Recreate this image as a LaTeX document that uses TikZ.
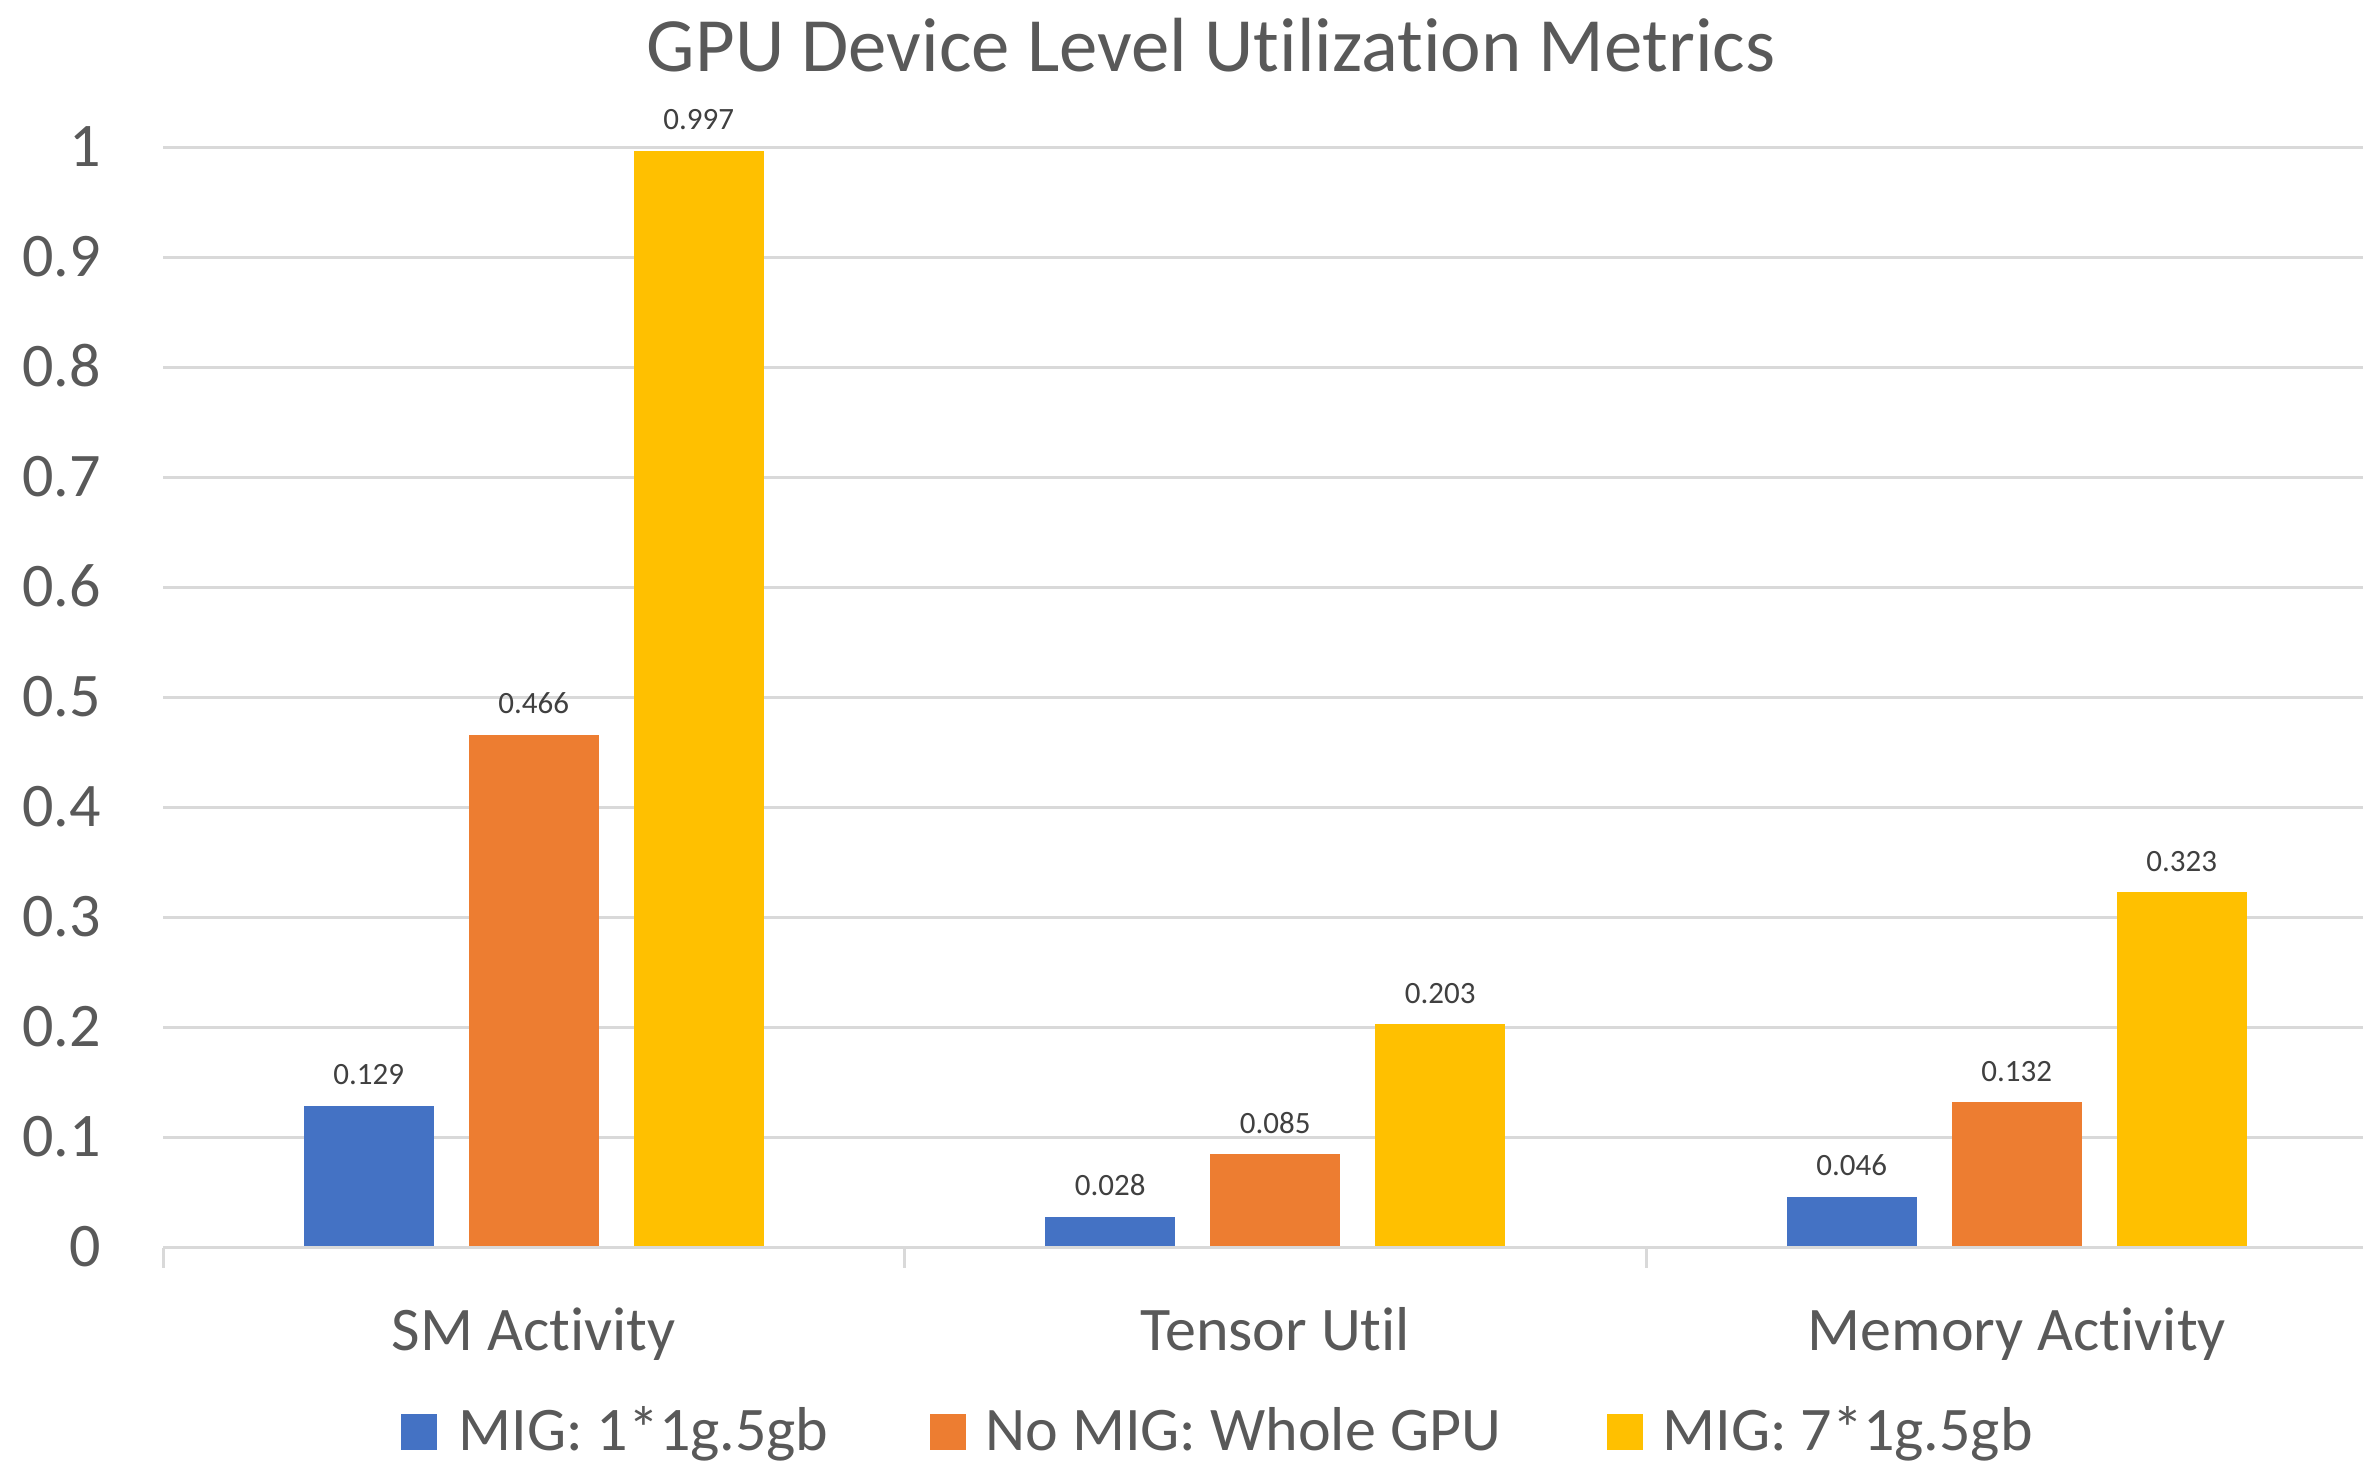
\documentclass[tikz,border=0pt]{standalone}
\usepackage{fontspec}
\setmainfont[Ligatures=NoCommon]{Carlito}
\definecolor{serblue}{HTML}{4472C4}
\definecolor{serorange}{HTML}{ED7D31}
\definecolor{seryellow}{HTML}{FFC000}
\definecolor{txtgray}{HTML}{595959}
\definecolor{lblgray}{HTML}{404040}
\definecolor{gridgray}{HTML}{D9D9D9}
\begin{document}
\begin{tikzpicture}[x=0.5pt,y=-0.5pt,
  gridline/.style={draw=gridgray,line width=1.5pt},
  ticklabel/.style={inner sep=0pt,text=txtgray,font=\fontsize{31}{37}\selectfont},
  catlabel/.style={inner sep=0pt,text=txtgray,font=\fontsize{31}{37}\selectfont},
  vallabel/.style={inner sep=0pt,text=lblgray,font=\fontsize{15.5}{18}\selectfont},
  legtext/.style={inner sep=0pt,text=txtgray,font=\fontsize{31}{37}\selectfont,anchor=base west},
  legkey/.style={inner sep=0pt,minimum size=18pt,draw=none},
  titlestyle/.style={inner sep=0pt,text=txtgray,font=\fontsize{38.4}{46}\selectfont}]
\useasboundingbox (0,0) rectangle (2363,1461);
\fill[white] (0,0) rectangle (2363,1461);

% title
\node[titlestyle,anchor=base] (title) at (1211,72) {GPU Device Level Utilization Metrics};

% horizontal gridlines and value axis labels
\foreach \v/\t in {1/0.1,2/0.2,3/0.3,4/0.4,5/0.5,6/0.6,7/0.7,8/0.8,9/0.9,10/1} {
  \draw[gridline] (163,{1247.5-110*\v}) -- (2363,{1247.5-110*\v});
  \node[ticklabel,anchor=base east] (ytick\v) at (101,{1247.5-110*\v+19}) {\t};
}
\node[ticklabel,anchor=base east] (ytick0) at (101,1266.5) {0};

% clustered bars with their value labels
\foreach \g/\va/\vb/\vc in {0/0.129/0.466/0.997,1/0.028/0.085/0.203,2/0.046/0.132/0.323} {
  \pgfmathsetmacro{\gc}{163+741.5*(\g+0.5)}
  \foreach \k/\val/\col in {0/\va/serblue,1/\vb/serorange,2/\vc/seryellow} {
    \pgfmathsetmacro{\bx}{\gc+165*(\k-1)}
    \pgfmathsetmacro{\top}{1247.5-1100*\val}
    \fill[\col] ({\bx-65},1247.5) rectangle ({\bx+65},\top);
    \node[vallabel,anchor=base] (val\g\k) at (\bx,{\top-21}) {\val};
  }
}

% category axis with tick marks
\draw[gridline] (163,1247.5) -- (2363,1247.5);
\foreach \i in {0,1,2} {
  \draw[gridline] ({163+741.5*\i},1247.5) -- ({163+741.5*\i},1268);
}

% category labels
\node[catlabel,anchor=base] (cat0) at (533.75,1350) {SM Activity};
\node[catlabel,anchor=base] (cat1) at (1275.25,1350) {Tensor Util};
\node[catlabel,anchor=base] (cat2) at (2016.75,1350) {Memory Activity};

% legend
\node[legkey,fill=serblue] (key0) at (419,1432) {};
\node[legtext] (leg0) at (458,1450) {MIG: 1*1g.5gb};
\node[legkey,fill=serorange] (key1) at (948,1432) {};
\node[legtext] (leg1) at (985,1450) {No MIG: Whole GPU};
\node[legkey,fill=seryellow] (key2) at (1624.5,1432) {};
\node[legtext] (leg2) at (1662,1450) {MIG: 7*1g.5gb};
\end{tikzpicture}
\end{document}
